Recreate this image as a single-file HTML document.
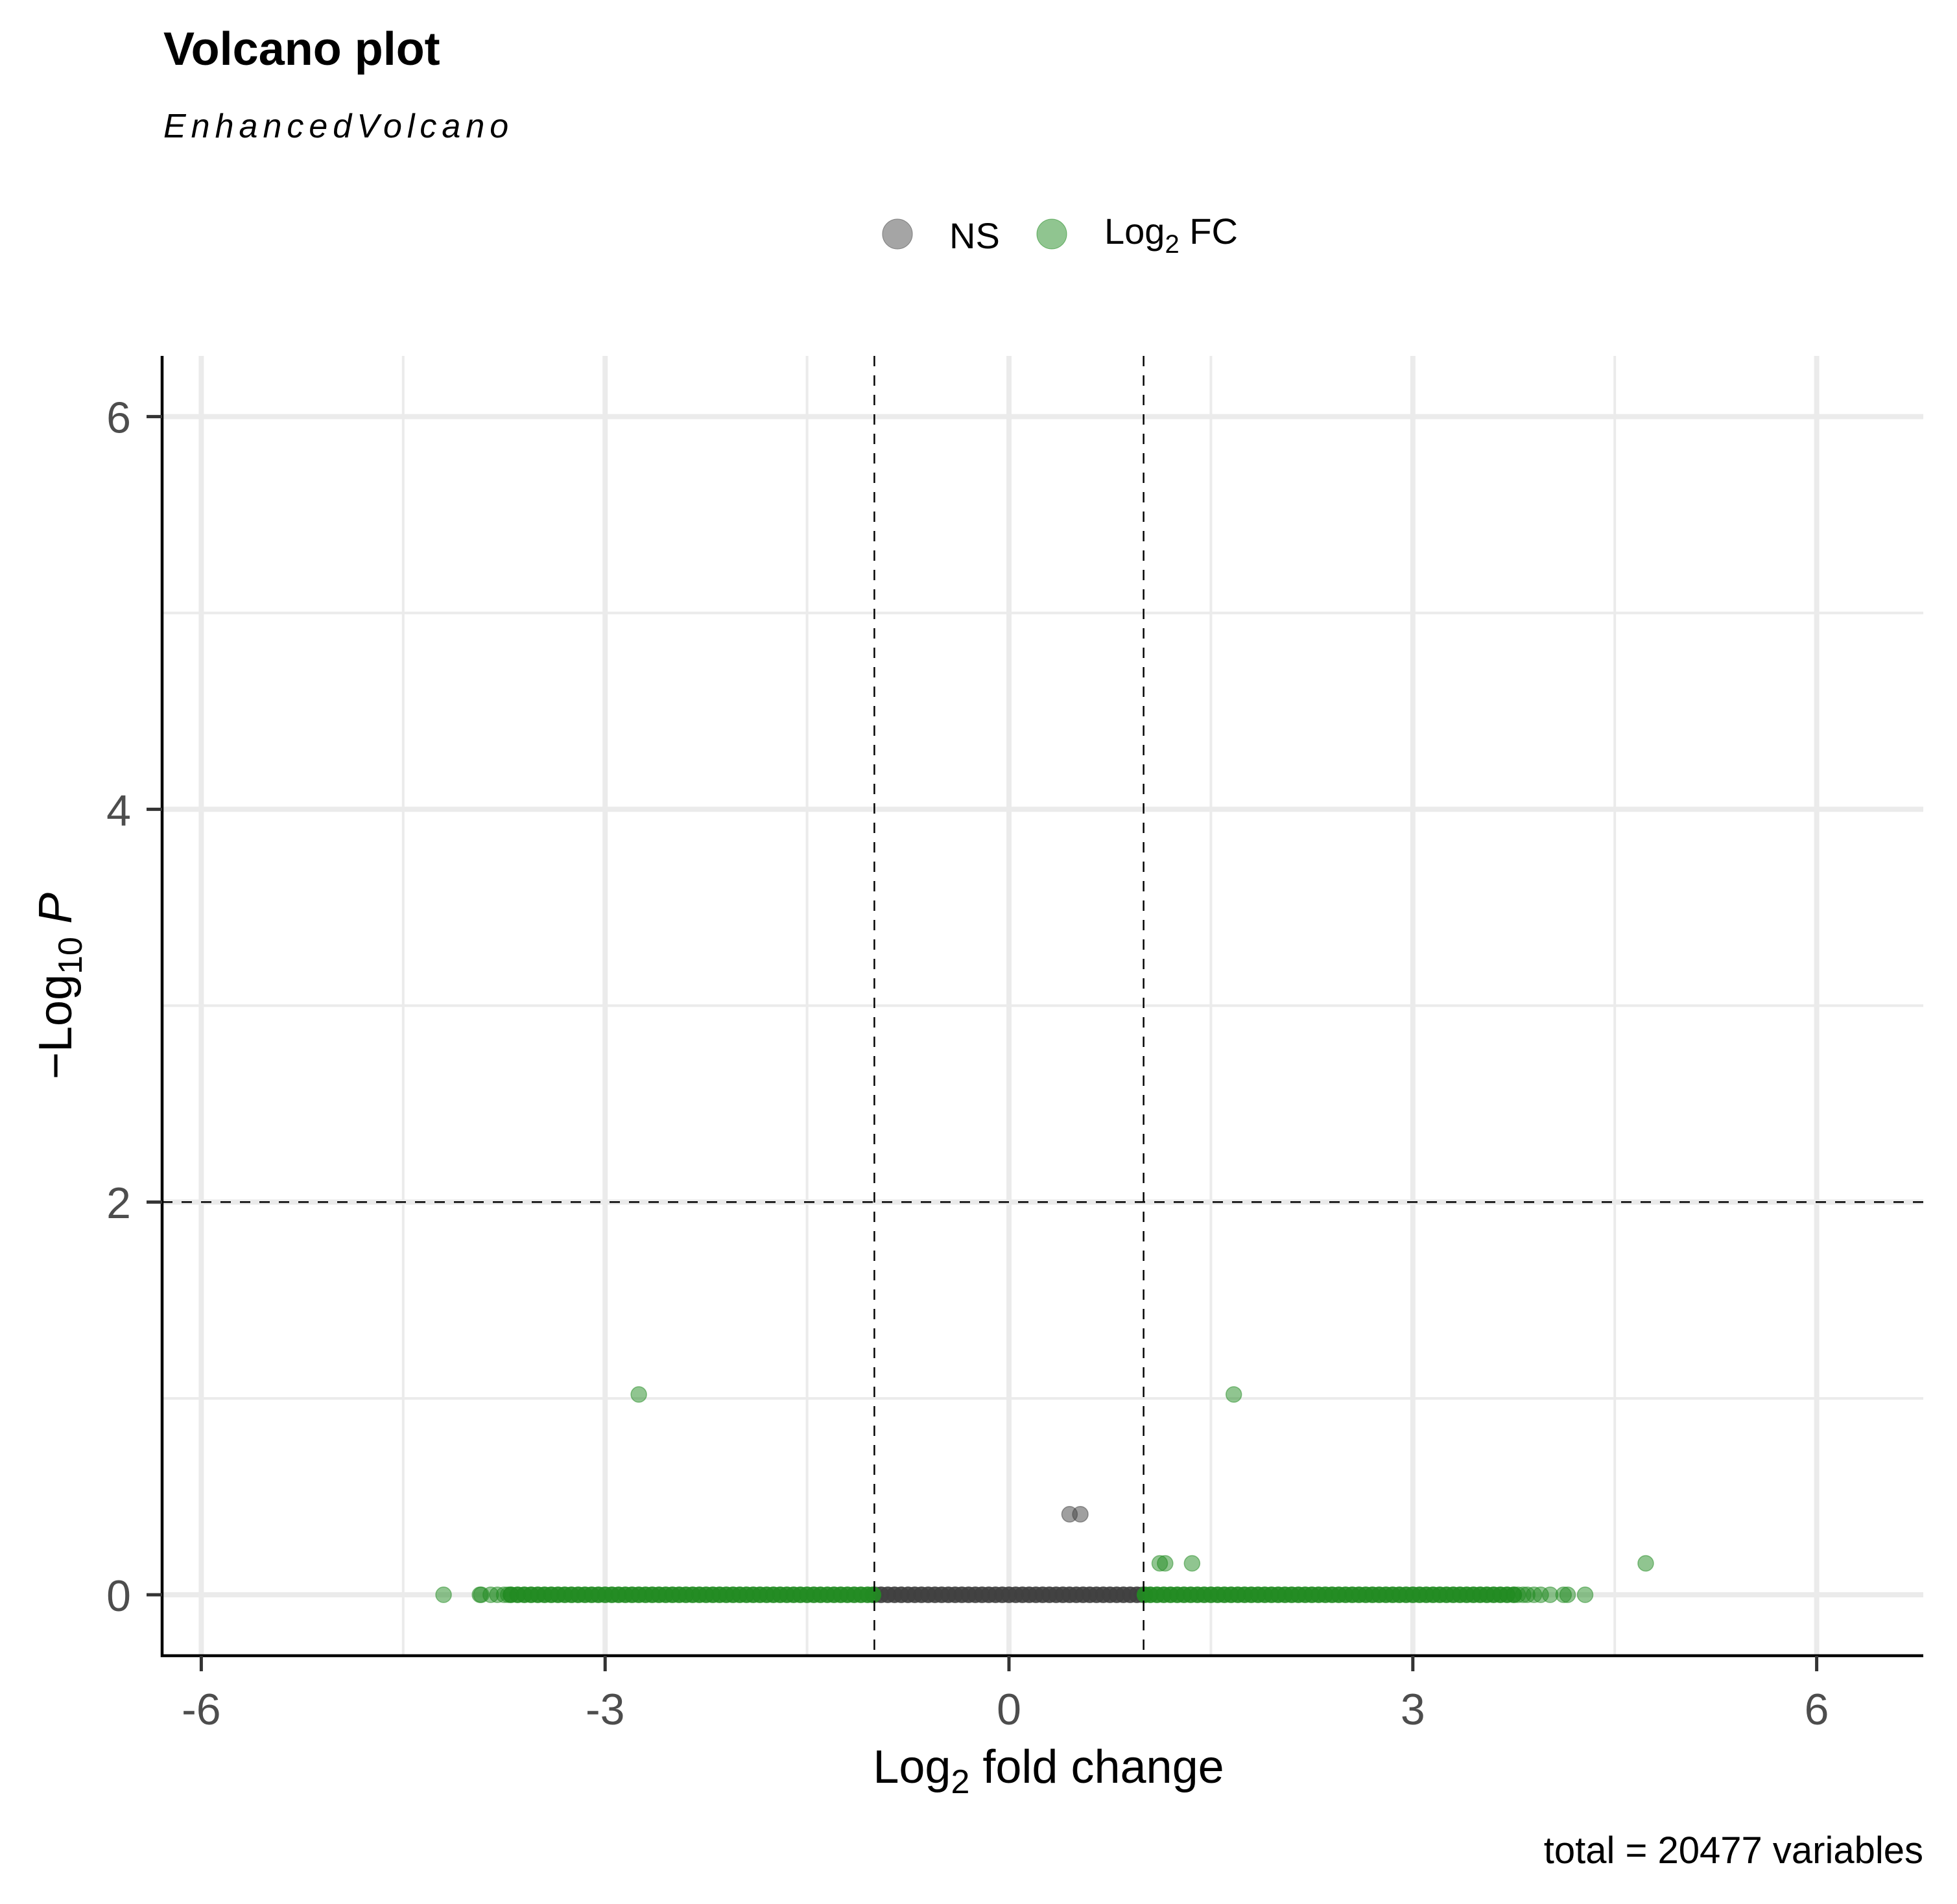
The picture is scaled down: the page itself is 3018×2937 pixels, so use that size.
<!DOCTYPE html>
<html><head><meta charset="utf-8"><style>
html,body{margin:0;padding:0;background:#fff;}
svg{display:block;font-family:"Liberation Sans",sans-serif;}
</style></head><body>
<svg id="chart" width="3018" height="2937" viewBox="0 0 3018 2937" xmlns="http://www.w3.org/2000/svg">
<text x="252" y="100" font-size="72" font-weight="bold" fill="#000">Volcano plot</text>
<text x="252" y="212" font-size="52" font-style="italic" letter-spacing="8" fill="#000">EnhancedVolcano</text>
<g>
<g><circle cx="1384" cy="361" r="23" fill="#7f7f7f" fill-opacity="0.7" stroke="#7f7f7f"/><text x="1464" y="383" font-size="56" fill="#000">NS</text></g>
<g><circle cx="1622" cy="361" r="23" fill="#228b22" fill-opacity="0.5" stroke="#228b22" stroke-opacity="0.6"/><text x="1703" y="376" font-size="56" fill="#000">Log<tspan font-size="40" dy="14">2</tspan><tspan dy="-14"> FC</tspan></text></g>
</g>
<g id="grid"></g>
<g id="marks"></g>
<g id="axes"></g>
<text x="1617" y="2750" font-size="72" text-anchor="middle" fill="#000">Log<tspan font-size="52" dy="16">2</tspan><tspan dy="-16"> fold change</tspan></text>
<text transform="translate(110,1521) rotate(-90)" font-size="72" text-anchor="middle" fill="#000">−Log<tspan font-size="52" dy="16">10</tspan><tspan dy="-16"> </tspan><tspan font-style="italic">P</tspan></text>
<text x="2966" y="2874" font-size="58" text-anchor="end" fill="#000">total = 20477 variables</text>
</svg>
<script>
const xTicks = [-6, -3, 0, 3, 6];
const xMinor = [-4.5, -1.5, 1.5, 4.5];
const yTicks = [0, 2, 4, 6];
const yMinor = [1, 3, 5];
const fcCut = [-1, 1];
const pCut = [2];
const greenBaseX = [-4.2,-3.93,-3.92,-3.85,-3.8,-3.75,-3.72,-3.7,-3.65,-3.6,-3.55,-3.5,-3.45,-3.4,-3.35,-3.3,-3.25,-3.2,-3.15,-3.1,-3.05,-3.0,-2.95,-2.9,-2.85,-2.8,-2.75,-2.7,-2.65,-2.6,-2.55,-2.5,-2.45,-2.4,-2.35,-2.3,-2.25,-2.2,-2.15,-2.1,-2.05,-2.0,-1.95,-1.9,-1.85,-1.8,-1.75,-1.7,-1.65,-1.6,-1.55,-1.5,-1.45,-1.4,-1.35,-1.3,-1.25,-1.2,-1.15,-1.1,-1.05,-1.01,
1.01,1.05,1.1,1.15,1.2,1.25,1.3,1.35,1.4,1.45,1.5,1.55,1.6,1.65,1.7,1.75,1.8,1.85,1.9,1.95,2.0,2.05,2.1,2.15,2.2,2.25,2.3,2.35,2.4,2.45,2.5,2.55,2.6,2.65,2.7,2.75,2.8,2.85,2.9,2.95,3.0,3.05,3.1,3.15,3.2,3.25,3.3,3.35,3.4,3.45,3.5,3.55,3.6,3.65,3.7,3.75,3.78,3.82,3.85,3.9,3.95,4.02,4.12,4.15,4.28];
const greenOutX = [-2.75, 1.67, 4.73, 1.12, 1.16, 1.36];
const greenOutY = [1.02, 1.02, 0.16, 0.16, 0.16, 0.16];
const greyBaseX = [-0.99,-0.95,-0.9,-0.85,-0.8,-0.75,-0.7,-0.65,-0.6,-0.55,-0.5,-0.45,-0.4,-0.35,-0.3,-0.25,-0.2,-0.15,-0.1,-0.05,0,0.05,0.1,0.15,0.2,0.25,0.3,0.35,0.4,0.45,0.5,0.55,0.6,0.65,0.7,0.75,0.8,0.85,0.9,0.95,0.99];
const greyOutX = [0.45, 0.53];
const greyOutY = [0.41, 0.41];

const NS = "http://www.w3.org/2000/svg";
const L = 250, R = 2966, T = 549, B = 2554;
const sx = v => 1556 + v * 207.6;
const sy = v => 2460 - v * 302.9;
function mk(tag, attrs, parent) {
  const e = document.createElementNS(NS, tag);
  for (const k in attrs) e.setAttribute(k, attrs[k]);
  parent.appendChild(e);
  return e;
}
const grid = document.getElementById('grid');
const marks = document.getElementById('marks');
const axes = document.getElementById('axes');
xMinor.forEach(v => {
  const e = mk('line', {x1: sx(v), x2: sx(v), y1: T, y2: B, stroke: '#ebebeb', 'stroke-width': 4}, grid);
  
  
});
yMinor.forEach(v => {
  const e = mk('line', {x1: L, x2: R, y1: sy(v), y2: sy(v), stroke: '#ebebeb', 'stroke-width': 4}, grid);
  
  
});
xTicks.forEach(v => {
  const e = mk('line', {x1: sx(v), x2: sx(v), y1: T, y2: B, stroke: '#ebebeb', 'stroke-width': 8}, grid);
  
  
});
yTicks.forEach(v => {
  const e = mk('line', {x1: L, x2: R, y1: sy(v), y2: sy(v), stroke: '#ebebeb', 'stroke-width': 8}, grid);
  
  
});
function dot(x, y, col, op, name) {
  const c = mk('circle', {cx: sx(x), cy: sy(y), r: 12, fill: col, 'fill-opacity': op, stroke: col, 'stroke-opacity': op, 'stroke-width': 1.5}, marks);
  
  
}
greyBaseX.forEach(v => dot(v, 0, '#404040', Math.abs(v) > 0.98 ? 0.6 : 0.9, 'ns-point'));
greyOutX.forEach((v, i) => dot(v, greyOutY[i], '#404040', 0.5, 'ns-point'));
greenBaseX.forEach(v => dot(v, 0, '#228b22', (v < -3.7 || v > 3.75) ? 0.5 : 0.9, 'log2fc-point'));
greenOutX.forEach((v, i) => dot(v, greenOutY[i], '#228b22', 0.5, 'log2fc-point'));
fcCut.forEach(v => {
  const e = mk('line', {x1: sx(v), x2: sx(v), y1: T, y2: B, stroke: '#000', 'stroke-width': 2.5, 'stroke-dasharray': '16 14'}, marks);
  
  
});
pCut.forEach(v => {
  const e = mk('line', {x1: L, x2: R, y1: sy(v), y2: sy(v), stroke: '#000', 'stroke-width': 2.5, 'stroke-dasharray': '16 14'}, marks);
  
  
});
const ax = mk('path', {d: `M${L},${T} V${B} H${R}`, fill: 'none', stroke: '#000', 'stroke-width': 4.5}, axes);


xTicks.forEach(v => {
  const t = mk('line', {x1: sx(v), x2: sx(v), y1: B, y2: B + 24, stroke: '#333', 'stroke-width': 5}, axes);
  
  
  const l = mk('text', {x: sx(v), y: 2660, 'font-size': 68, 'text-anchor': 'middle', fill: '#4d4d4d'}, axes);
  l.textContent = String(v);
  
  
});
yTicks.forEach(v => {
  const t = mk('line', {x1: L - 24, x2: L, y1: sy(v), y2: sy(v), stroke: '#333', 'stroke-width': 5}, axes);
  
  
  const l = mk('text', {x: 202, y: sy(v) + 25, 'font-size': 68, 'text-anchor': 'end', fill: '#4d4d4d'}, axes);
  l.textContent = String(v);
  
  
});
</script>
</body></html>
